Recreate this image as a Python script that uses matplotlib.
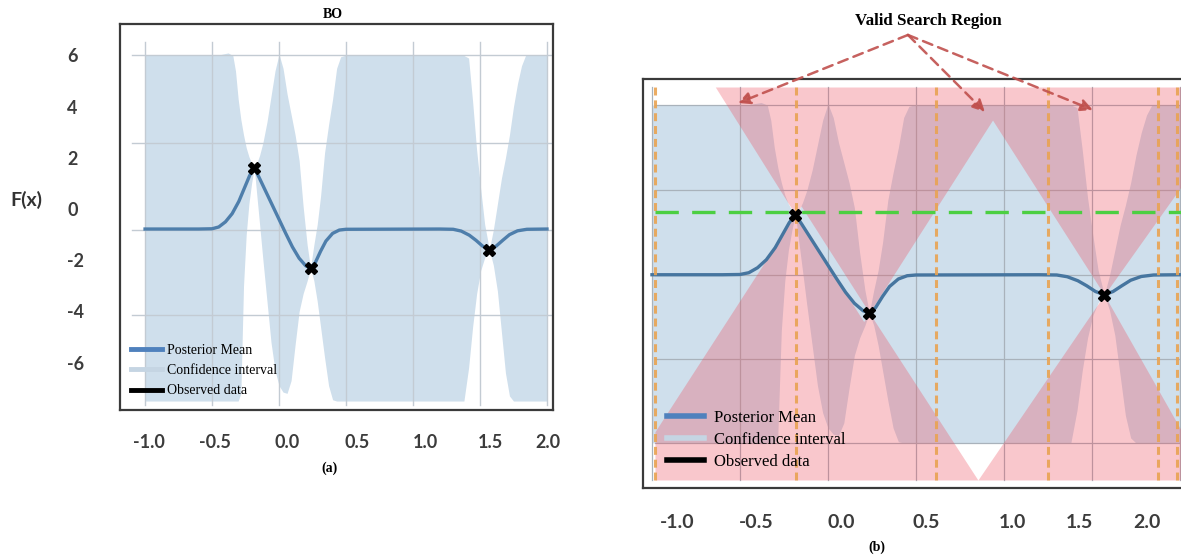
import numpy as np
import matplotlib
matplotlib.use("Agg")
import matplotlib.pyplot as plt
from matplotlib.lines import Line2D

# ---------------- data ----------------
mean_x = [-1.0, -0.6, -0.5, -0.45, -0.40, -0.35, -0.30, -0.26, -0.22, -0.185, -0.15, -0.10,
          -0.05, 0.0, 0.05, 0.10, 0.15, 0.20, 0.235, 0.27, 0.31, 0.35, 0.40, 0.45, 0.50,
          1.20, 1.30, 1.36, 1.42, 1.47, 1.52, 1.57, 1.62, 1.67, 1.72, 1.78, 1.85, 2.0]
mean_y = [-0.78, -0.78, -0.77, -0.70, -0.50, -0.18, 0.30, 0.80, 1.30, 1.62, 1.25, 0.70,
          0.15, -0.40, -0.95, -1.48, -1.92, -2.22, -2.30, -2.10, -1.65, -1.25, -0.95, -0.82, -0.79,
          -0.78, -0.79, -0.86, -1.02, -1.22, -1.45, -1.58, -1.45, -1.22, -1.00, -0.85, -0.79, -0.78]

ci_x = [-1.0, -0.7, -0.45, -0.38, -0.345, -0.325, -0.305, -0.285, -0.265, -0.245, -0.225, -0.205,
        -0.185, -0.165, -0.145, -0.12, -0.09, -0.06, -0.03, 0.0, 0.03, 0.06, 0.09, 0.12, 0.15,
        0.18, 0.21, 0.235, 0.26, 0.285, 0.31, 0.34, 0.37, 0.40, 0.43, 0.46, 0.49, 1.0, 1.38,
        1.415, 1.445, 1.475, 1.505, 1.535, 1.57, 1.60, 1.63, 1.66, 1.69, 1.72, 1.75, 1.78, 1.81,
        1.84, 2.0]
ci_upper = [6.0, 6.0, 6.02, 6.1, 6.0, 5.4, 4.3, 3.5, 2.9, 2.4, 2.05, 1.8,
            1.62, 1.8, 2.1, 2.6, 3.4, 4.4, 5.4, 6.05, 5.5, 4.5, 3.7, 2.9, 1.9,
            0.1, -1.4, -2.30, -1.4, -0.6, 0.5, 2.2, 3.3, 4.3, 5.5, 5.95, 6.0, 6.0, 6.0,
            5.9, 4.2, 2.3, 0.8, -0.6, -1.58, -0.8, 0.2, 1.2, 2.0, 2.9, 4.0, 4.9, 5.6,
            6.0, 6.0]
ci_lower = [-7.5, -7.5, -7.5, -7.5, -7.5, -7.5, -7.5, -7.2, -3.0, -1.0, 0.2, 1.0,
            1.62, 0.5, -0.6, -2.0, -3.6, -5.2, -6.3, -6.9, -7.15, -7.2, -6.7, -5.3, -4.0,
            -3.3, -2.8, -2.30, -2.8, -3.6, -4.6, -5.8, -6.9, -7.45, -7.5, -7.5, -7.5, -7.5, -7.5,
            -6.2, -4.6, -3.3, -2.4, -1.9, -1.58, -2.2, -3.2, -4.8, -6.4, -7.3, -7.5, -7.5, -7.5,
            -7.5, -7.5]

obs_x = [-0.185, 0.235, 1.57]
obs_y = [1.62, -2.30, -1.58]

# boundaries of the search-region cones in panel (b)
cone_up_x = [-0.64, -0.185, -0.153, 0.235, 0.935, 1.57, 2.006]
cone_up_y = [6.72, 1.62, 1.97, -2.30, 5.40, -1.58, 2.73]
cone_lo_x = [-0.983, -0.185, 0.203, 0.235, 0.852, 1.57, 2.006]
cone_lo_y = [-7.05, 1.62, -2.65, -2.30, -8.98, -1.58, -6.98]
best_y = 1.72
bound_x = [-0.983, -0.182, 0.614, 1.25, 1.875, 1.983]

xtick_labels = ['-1.0', '-0.5', '0.0', '0.5', '1.0', '1.5', '2.0']
ytick_values = [6, 4, 2, 0, -2, -4, -6]
ytick_labels = ['6', '4', '2', '0', '-2', '-4', '-6']
grid_x = [-1.0, -0.5, 0.0, 0.5, 1.0, 1.5, 2.0]
grid_y = [6.0, 2.6, -0.8, -4.15]
grid_yb = [6.0, 2.6, -0.8, -4.15, -7.5]
legend_labels = ['Posterior Mean', 'Confidence interval', 'Observed data']

# label positions (layout of the pasted tick labels)
a_xtick_pos = [-0.970, -0.478, 0.060, 0.582, 1.090, 1.575, 2.007]
b_xtick_pos = [-0.858, -0.409, 0.074, 0.557, 1.051, 1.426, 1.8125]

# ---------------- styling ----------------
CI_COL = '#cfdfec'
MEAN_COL = '#4e7eab'
RED = '#ee4858'
SERIF = 'Liberation Serif'
SANS = 'Lato'
TICK_COL = '#3c3c3c'

W, H = 1181, 559
fig = plt.figure(figsize=(W / 100, H / 100), dpi=100)


def fx(px):
    return px / W


def fy(py):
    return 1 - py / H


# ---------------- panel (a) ----------------
axA = fig.add_axes([fx(120), fy(410), fx(553) - fx(120), fy(24) - fy(410)])
axA.set_xlim(-1.187, 2.045)
axA.set_ylim(-7.85, 7.23)
axA.fill_between(ci_x, ci_lower, ci_upper, color=CI_COL, lw=0, zorder=1)
for gx in grid_x:
    axA.axvline(gx, ymin=0.013, ymax=0.953, color='#c3cbd3', lw=1.0, zorder=2)
for gy in grid_y:
    axA.axhline(gy, xmin=0.028, xmax=0.995, color='#c3cbd3', lw=1.0, zorder=2)
axA.plot(mean_x, mean_y, color=MEAN_COL, lw=2.4, zorder=4)
axA.plot(obs_x, obs_y, ls='none', marker='X', ms=9, color='black', zorder=5)
axA.set_xticks(a_xtick_pos, xtick_labels)
axA.set_yticks(ytick_values, ytick_labels)
axA.tick_params(axis='both', length=0, labelsize=13, labelcolor=TICK_COL)
axA.tick_params(axis='x', pad=17)
axA.tick_params(axis='y', pad=38)
for t in axA.get_xticklabels() + axA.get_yticklabels():
    t.set_fontfamily(SANS)
    t.set_fontweight('bold')
for t in axA.get_yticklabels():
    t.set_horizontalalignment('left')
for s in axA.spines.values():
    s.set_color('#3a3a3a')
    s.set_linewidth(1.6)

handlesA = [Line2D([], [], color='#4f81bd', lw=3.5),
            Line2D([], [], color='#c5d5e3', lw=3.5),
            Line2D([], [], color='black', lw=3.5)]
legA = axA.legend(handlesA, legend_labels, loc='upper left',
                  bbox_to_anchor=(fx(131), fy(344)), bbox_transform=fig.transFigure,
                  frameon=False, borderpad=0, borderaxespad=0, handlelength=2.2,
                  handletextpad=0.36, labelspacing=0.52,
                  prop={'family': SERIF, 'size': 10})
legA.set_zorder(6)

fig.text(fx(333), fy(14), 'BO', family=SERIF, fontweight='bold', fontsize=10,
         ha='center', va='center')
fig.text(fx(330), fy(468), '(a)', family=SERIF, fontweight='bold', fontsize=10,
         ha='center', va='center')
fig.text(fx(26), fy(200), 'F(x)', family=SANS, fontweight='bold', fontsize=14,
         color='#333333', ha='center', va='center')

# ---------------- panel (b) ----------------
axB = fig.add_axes([fx(643), fy(488), 1 - fx(643), fy(79) - fy(488)])
axB.set_xlim(-1.051, 2.006)
axB.set_ylim(-9.30, 7.04)
inner_top, inner_bot = 6.72, -8.98
axB.fill_between(ci_x, ci_lower, ci_upper, color=CI_COL, lw=0, zorder=1)
for gx in grid_x:
    axB.axvline(gx, ymin=0.0196, ymax=0.9804, color='#a9b2bb', lw=0.9, zorder=2)
for gy in grid_yb:
    axB.axhline(gy, xmin=0.0223, xmax=1, color='#a9b2bb', lw=0.9, zorder=2)
axB.fill_between(cone_up_x, cone_up_y, inner_top, color=RED, alpha=0.3, lw=0, zorder=3)
axB.fill_between(cone_lo_x, inner_bot, cone_lo_y, color=RED, alpha=0.3, lw=0, zorder=3)
axB.plot(mean_x, mean_y, color='#46759f', lw=2.4, zorder=4)
for bx in bound_x:
    axB.axvline(bx, ymin=0.0196, ymax=0.9804, color='#e9a352', alpha=0.9, lw=2.2,
                dashes=(2.6, 1.6), zorder=5)
axB.axhline(best_y, xmin=0.0223, xmax=1, color='#4ccf42', lw=2.4, dashes=(7, 4), zorder=5)
axB.plot(obs_x, obs_y, ls='none', marker='X', ms=9, color='black', zorder=6)
axB.set_xticks(b_xtick_pos, xtick_labels)
axB.set_yticks([])
axB.tick_params(axis='x', length=0, labelsize=14, labelcolor=TICK_COL, pad=19)
for t in axB.get_xticklabels():
    t.set_fontfamily(SANS)
    t.set_fontweight('bold')
for name, s in axB.spines.items():
    s.set_color('#3a3a3a')
    s.set_linewidth(1.6)
axB.spines['right'].set_visible(False)

handlesB = [Line2D([], [], color='#4f81bd', lw=4),
            Line2D([], [], color='#c5d5e3', lw=4),
            Line2D([], [], color='black', lw=4)]
legB = axB.legend(handlesB, legend_labels, loc='upper left',
                  bbox_to_anchor=(fx(667), fy(410)), bbox_transform=fig.transFigure,
                  frameon=False, borderpad=0, borderaxespad=0, handlelength=2.2,
                  handletextpad=0.6, labelspacing=0.36,
                  prop={'family': SERIF, 'size': 12})
legB.set_zorder(7)

# annotation with dashed arrows
arrow_tips = [(-0.511, 6.08), (0.892, 5.72), (1.506, 5.80)]
arrow_origin = (0.4545, 8.80)
for tip in arrow_tips:
    axB.annotate('', xy=tip, xytext=arrow_origin, annotation_clip=False,
                 arrowprops=dict(arrowstyle='-|>', color='#c0504d', lw=1.8,
                                 linestyle=(0, (4, 2.5)), mutation_scale=18,
                                 shrinkA=0, shrinkB=0, alpha=0.9), zorder=8)
fig.text(fx(928), fy(21), 'Valid Search Region', family=SERIF, fontweight='bold',
         fontsize=12.2, ha='center', va='center')
fig.text(fx(877), fy(547), '(b)', family=SERIF, fontweight='bold', fontsize=10,
         ha='center', va='center')

fig.savefig('out.png', dpi=100)
